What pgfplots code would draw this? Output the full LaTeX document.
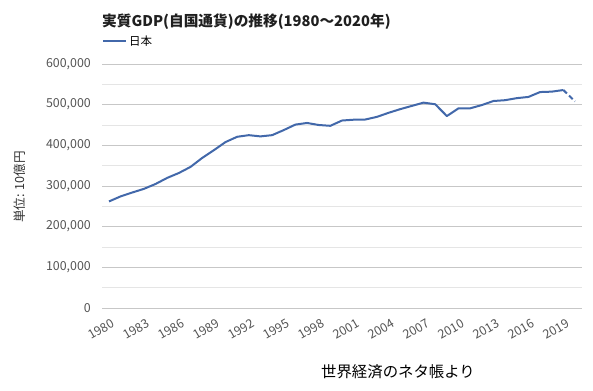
\documentclass[border=0pt]{standalone}
\usepackage{fontspec}
\setmainfont{Noto Sans CJK JP}
\usepackage{pgfplots}
\pgfplotsset{compat=1.18}
\usepackage{pgfplotstable}
\definecolor{lineblue}{RGB}{66,104,170}
\definecolor{ticktext}{RGB}{85,85,85}
\pgfplotstableread{
year gdp
1980 262000
1981 274500
1982 284000
1983 293000
1984 305000
1985 320000
1986 332000
1987 347000
1988 369000
1989 388000
1990 408000
1991 421000
1992 425000
1993 422000
1994 425000
1995 437500
1996 451000
1997 455000
1998 450000
1999 448000
2000 461000
2001 463000
2002 463500
2003 470000
2004 480000
2005 489000
2006 497000
2007 505000
2008 501000
2009 472000
2010 491000
2011 491000
2012 499000
2013 509000
2014 511000
2015 516000
2016 519000
2017 531000
2018 532000
2019 536000
}\solid
\pgfplotstableread{
year gdp
2019 536000
2020 508000
}\dashedpart
\begin{document}
\begin{tikzpicture}
\path[use as bounding box] (0,0) rectangle (593pt,390pt);
\begin{axis}[
  at={(102pt,82pt)}, anchor=south west,
  width=480pt, height=244pt, scale only axis,
  xmin=1979.4, xmax=2020.6,
  ymin=0, ymax=600000,
  axis line style={draw=none},
  tick style={draw=none},
  xtick={1980,1983,...,2019},
  ytick={0,100000,...,600000},
  minor ytick={50000,150000,...,550000},
  ymajorgrids, yminorgrids,
  major grid style={draw=black!22, line width=0.6pt},
  minor grid style={draw=black!10, line width=0.6pt},
  extra y ticks={0}, extra y tick labels={},
  extra y tick style={grid style={draw=black!85, line width=0.8pt}},
  scaled y ticks=false,
  /pgf/number format/assume math mode=true,
  yticklabel style={/pgf/number format/fixed, /pgf/number format/1000 sep={,},
    font=\fontsize{12.4}{12.4}\selectfont, text=ticktext, anchor=east, inner sep=0pt, xshift=-11pt},
  xticklabel style={/pgf/number format/1000 sep={},
    font=\fontsize{12.4}{12.4}\selectfont, text=ticktext, rotate=30, anchor=north east,
    inner sep=0pt, text height=9pt, text depth=0pt, yshift=-10pt, xshift=-3pt},
  legend style={at={(0,1)}, anchor=south west, draw=none, fill=none,
    font=\fontsize{11.5}{11.5}\selectfont, yshift=13pt, xshift=-3pt},
  legend image code/.code={\draw[#1] (0pt,0pt) -- (23pt,0pt);},
  clip=false,
]
\addplot[lineblue, line width=2pt, line join=round] table[x=year,y=gdp]{\solid};
\addlegendentry{日本}
\addplot[lineblue, line width=2pt, dash pattern=on 5pt off 3pt, forget plot] table[x=year,y=gdp]{\dashedpart};
\end{axis}
\node[anchor=west, font=\fontsize{14.7}{14.7}\selectfont\bfseries, text=black!88, inner sep=0pt] at (102pt,368pt) {実質GDP(自国通貨)の推移(1980～2020年)};
\node[rotate=90, font=\fontsize{12.6}{12.6}\selectfont, text=black!80, inner sep=0pt] at (20pt,203pt) {単位: 10億円};
\node[font=\fontsize{15.4}{15.4}\selectfont, text=black, inner sep=0pt] at (398pt,18pt) {世界経済のネタ帳より};
\end{tikzpicture}
\end{document}
